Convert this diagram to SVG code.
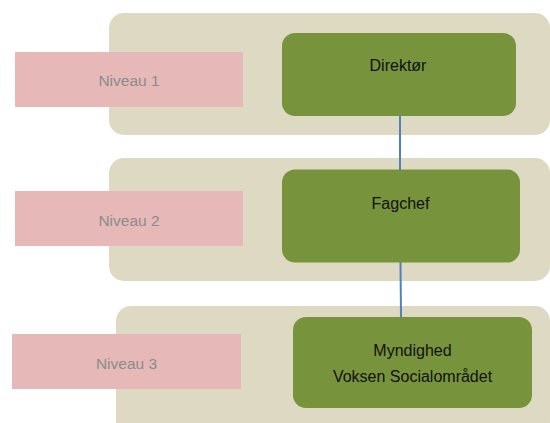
<svg xmlns="http://www.w3.org/2000/svg" width="550" height="423" viewBox="0 0 550 423">
<style>
.band{fill:#ddd9c3}
.lvl{fill:#e6b8b7}
.node{fill:#77933c}
.lt{font-family:"Liberation Sans",Arial,sans-serif;font-size:15.5px;fill:#8c8c8c;text-anchor:middle}
.nt{font-family:"Liberation Sans",Arial,sans-serif;font-size:16px;fill:#111;text-anchor:middle}
.conn{stroke:#4f81bd;stroke-width:2;fill:none}
</style>
<rect width="550" height="423" fill="#ffffff"/>
<g id="band1"><rect class="band" x="109" y="13" width="441" height="122" rx="15"/></g>
<g id="band2"><rect class="band" x="109" y="158" width="441" height="123" rx="15"/></g>
<g id="band3"><rect class="band" x="116" y="306" width="434" height="130" rx="15"/></g>
<g id="connectors">
<line class="conn" x1="400" y1="116" x2="400" y2="170"/>
<line class="conn" x1="400.5" y1="262" x2="401" y2="317"/>
</g>
<g id="niveau1"><rect class="lvl" x="15" y="52" width="228" height="55"/><text class="lt" x="129" y="86">Niveau 1</text></g>
<g id="niveau2"><rect class="lvl" x="15" y="191" width="228" height="55"/><text class="lt" x="129" y="226">Niveau 2</text></g>
<g id="niveau3"><rect class="lvl" x="12" y="334" width="229" height="55"/><text class="lt" x="126.5" y="369">Niveau 3</text></g>
<g id="direktor"><rect class="node" x="282" y="33" width="234" height="83" rx="13"/><text class="nt" x="398" y="71">Direktør</text></g>
<g id="fagchef"><rect class="node" x="282" y="169.5" width="238" height="93" rx="13"/><text class="nt" x="400.5" y="209">Fagchef</text></g>
<g id="myndighed"><rect class="node" x="293" y="317" width="239" height="91" rx="13"/><text class="nt" x="412.5" y="356">Myndighed</text><text class="nt" x="412.5" y="382">Voksen Socialområdet</text></g>
</svg>
